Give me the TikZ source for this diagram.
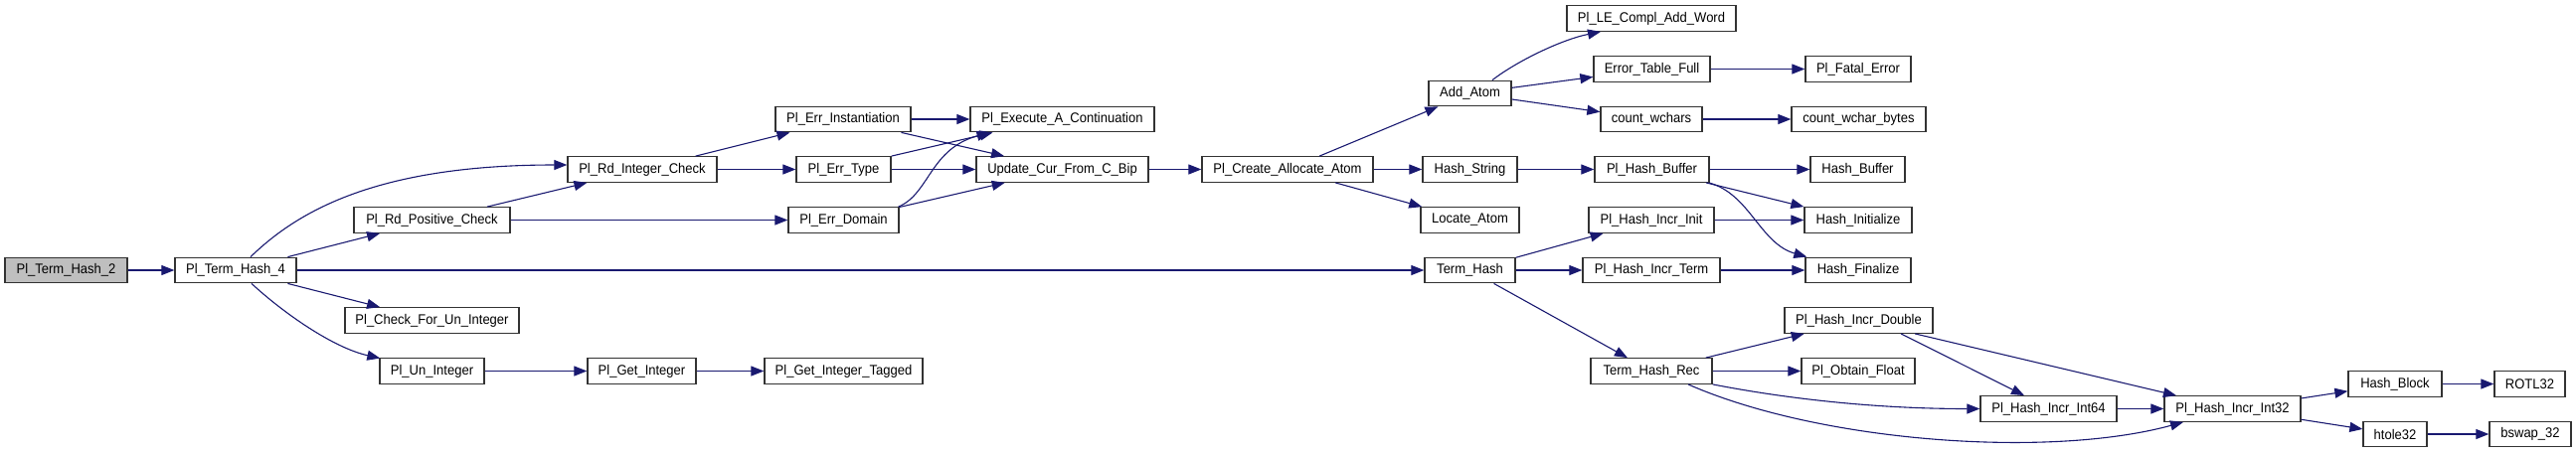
\documentclass[tikz,border=0pt]{standalone}
\usepackage{fontspec}
\setmainfont[FakeStretch=0.93]{Liberation Sans}
\usetikzlibrary{arrows.meta}
\definecolor{edgecol}{HTML}{191970}
\definecolor{boxgray}{HTML}{BFBFBF}
\definecolor{boxline}{HTML}{333333}
\tikzset{
  fn/.style={draw=boxline, line width=1.3pt, fill=white, minimum height=25.5pt, inner sep=0pt, font=\fontsize{14pt}{16pt}\selectfont},
  e/.style={draw=edgecol, line width=1.1pt, -{Triangle[length=13pt,width=10pt]}, color=edgecol},
}
\begin{document}
\begin{tikzpicture}[x=1pt,y=-1pt]
\useasboundingbox (0,0) rectangle (2591,456);
% nodes
\node[fn, fill=boxgray, minimum width=123pt] (T2) at (66.5,272) {Pl\_Term\_Hash\_2};
\node[fn, minimum width=122pt] (T4) at (237,272) {Pl\_Term\_Hash\_4};
\node[fn, minimum width=150pt] (RIC) at (646,170.5) {Pl\_Rd\_Integer\_Check};
\node[fn, minimum width=157pt] (RPC) at (434.5,221.5) {Pl\_Rd\_Positive\_Check};
\node[fn, minimum width=175pt] (CFU) at (434.5,322.5) {Pl\_Check\_For\_Un\_Integer};
\node[fn, minimum width=105pt] (UI) at (434.5,373.5) {Pl\_Un\_Integer};
\node[fn, minimum width=109pt] (GI) at (645.5,373.5) {Pl\_Get\_Integer};
\node[fn, minimum width=159pt] (GIT) at (848.5,373.5) {Pl\_Get\_Integer\_Tagged};
\node[fn, minimum width=136pt] (EI) at (848,120) {Pl\_Err\_Instantiation};
\node[fn, minimum width=95pt] (ET) at (848.5,170.5) {Pl\_Err\_Type};
\node[fn, minimum width=111pt] (ED) at (848.5,221.5) {Pl\_Err\_Domain};
\node[fn, minimum width=185pt] (EAC) at (1068.5,120) {Pl\_Execute\_A\_Continuation};
\node[fn, minimum width=173pt] (UC) at (1068.5,170.5) {Update\_Cur\_From\_C\_Bip};
\node[fn, minimum width=172pt] (CAA) at (1295,170.5) {Pl\_Create\_Allocate\_Atom};
\node[fn, minimum width=83pt] (AA) at (1478.5,94) {Add\_Atom};
\node[fn, minimum width=170pt] (LE) at (1661,18.5) {Pl\_LE\_Compl\_Add\_Word};
\node[fn, minimum width=117pt] (ETF) at (1661.5,69.5) {Error\_Table\_Full};
\node[fn, minimum width=106pt] (FE) at (1869,69.5) {Pl\_Fatal\_Error};
\node[fn, minimum width=102pt] (CW) at (1661,120) {count\_wchars};
\node[fn, minimum width=135pt] (CWB) at (1869.5,120) {count\_wchar\_bytes};
\node[fn, minimum width=95pt] (HS) at (1478.5,170.5) {Hash\_String};
\node[fn, minimum width=115pt] (PHB) at (1661.5,170.5) {Pl\_Hash\_Buffer};
\node[fn, minimum width=95pt] (HB) at (1868.5,170.5) {Hash\_Buffer};
\node[fn, minimum width=99pt] (LA) at (1478.5,221.5) {Locate\_Atom};
\node[fn, minimum width=126pt] (HII) at (1661,221.5) {Pl\_Hash\_Incr\_Init};
\node[fn, minimum width=108pt] (HI) at (1869,221.5) {Hash\_Initialize};
\node[fn, minimum width=91pt] (TH) at (1478.5,272) {Term\_Hash};
\node[fn, minimum width=138pt] (HIT) at (1661,272) {Pl\_Hash\_Incr\_Term};
\node[fn, minimum width=106pt] (HF) at (1869,272) {Hash\_Finalize};
\node[fn, minimum width=149pt] (HID) at (1869.5,322.5) {Pl\_Hash\_Incr\_Double};
\node[fn, minimum width=122pt] (THR) at (1661,373.5) {Term\_Hash\_Rec};
\node[fn, minimum width=114pt] (OF) at (1869,373.5) {Pl\_Obtain\_Float};
\node[fn, minimum width=137pt] (I64) at (2060.5,411.5) {Pl\_Hash\_Incr\_Int64};
\node[fn, minimum width=137pt] (I32) at (2245.5,411.5) {Pl\_Hash\_Incr\_Int32};
\node[fn, minimum width=94pt] (HBL) at (2409,386.5) {Hash\_Block};
\node[fn, minimum width=71pt] (ROT) at (2544.5,386.5) {ROTL32};
\node[fn, minimum width=64pt] (HT) at (2409,437) {htole32};
\node[fn, minimum width=82pt] (BS) at (2545,437) {bswap\_32};
% edges
\draw[e] (T2) -- (T4);
\draw[e] ([xshift=15pt]T4.north) .. controls (300,212) and (380,166) .. ([yshift=4.5pt]RIC.west);
\draw[e] (T4) -- (RPC);
\draw[e] (T4) -- (TH);
\draw[e] (T4) -- (CFU);
\draw[e] ([xshift=16pt]T4.south) .. controls (285,315) and (335,350) .. ([xshift=1pt,yshift=-0.5pt]UI.north west);
\draw[e] (RIC) -- (EI);
\draw[e] (RIC) -- (ET);
\draw[e] (RPC) -- (RIC);
\draw[e] (RPC) -- (ED);
\draw[e] (UI) -- (GI);
\draw[e] (GI) -- (GIT);
\draw[e] (EI) -- (EAC);
\draw[e] (EI) -- (UC);
\draw[e] (ET.north east) -- ([xshift=-70pt]EAC.south);
\draw[e] (ET) -- (UC);
\draw[e] ([xshift=-1pt]ED.north east) .. controls (935,195) and (935,150) .. ([xshift=-73pt]EAC.south);
\draw[e] (ED) -- (UC);
\draw[e] (UC) -- (CAA);
\draw[e] (CAA) -- (AA);
\draw[e] (CAA) -- (HS);
\draw[e] (CAA) -- (LA);
\draw[e] ([xshift=22.5pt]AA.north) .. controls (1525,62) and (1570,40) .. ([xshift=-51pt]LE.south);
\draw[e] (AA) -- (ETF);
\draw[e] (AA) -- (CW);
\draw[e] (ETF) -- (FE);
\draw[e] (CW) -- (CWB);
\draw[e] (HS) -- (PHB);
\draw[e] (PHB) -- (HB);
\draw[e] (PHB) -- (HI);
\draw[e] ([xshift=-1pt]PHB.south east) .. controls (1760,195) and (1770,245) .. ([xshift=2pt]HF.north west);
\draw[e] (TH) -- (HII);
\draw[e] (TH) -- (HIT);
\draw[e] (TH) -- (THR);
\draw[e] (HII) -- (HI);
\draw[e] (HIT) -- (HF);
\draw[e] (THR) -- (HID);
\draw[e] (THR) -- (OF);
\draw[e] (THR.south east) .. controls (1790,400) and (1880,411.5) .. (I64.west);
\draw[e] ([xshift=37pt]THR.south) .. controls (1830,445) and (2060,462) .. ([xshift=-49.5pt]I32.south);
\draw[e] ([xshift=42.5pt]HID.south) -- ([xshift=-24.5pt]I64.north);
\draw[e] (HID) -- (I32);
\draw[e] (I64) -- (I32);
\draw[e] (I32) -- (HBL);
\draw[e] (I32) -- (HT);
\draw[e] (HBL) -- (ROT);
\draw[e] (HT) -- (BS);
\end{tikzpicture}
\end{document}
